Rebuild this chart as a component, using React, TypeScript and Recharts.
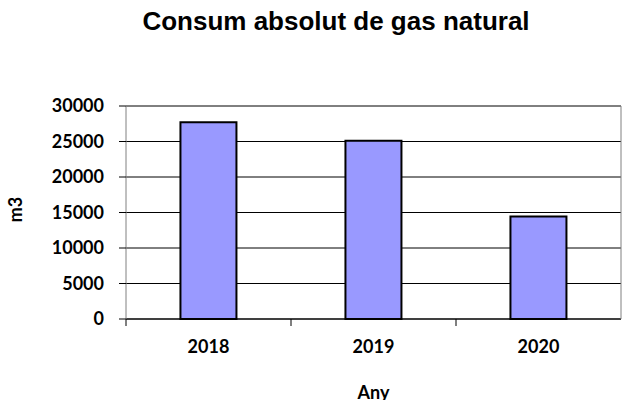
import { BarChart, Bar, XAxis, YAxis, CartesianGrid, ReferenceLine } from 'recharts';

const anys = ['2018', '2019', '2020'];
const consum = [27700, 25100, 14450];
const yTicks = [0, 5000, 10000, 15000, 20000, 25000, 30000];

const data = anys.map((any, i) => ({ any, consum: consum[i] }));

const labelFont = 'Lato, "Open Sans", sans-serif';

function AnyTick({ x, y, payload, width }: any) {
    const half = width / anys.length / 2;
    const axisY = y;
    return (
        <g>
            <line x1={x - half} y1={axisY} x2={x - half} y2={axisY + 7} stroke="#000" />
            <text x={x} y={axisY + 34} textAnchor="middle" fontFamily={labelFont} fontWeight="bold" fontSize={18} fill="#000">
                {payload.value}
            </text>
        </g>
    );
}

function AnyLabel({ viewBox }: any) {
    return (
        <text x={viewBox.x + viewBox.width / 2} y={viewBox.y + 80} textAnchor="middle" fontFamily={labelFont} fontWeight="bold" fontSize={18} fill="#000">
            Any
        </text>
    );
}

function M3Label({ viewBox }: any) {
    const cy = viewBox.y + viewBox.height / 2 - 3;
    return (
        <text x={22} y={cy} transform={`rotate(-90, 22, ${cy})`} textAnchor="middle" fontFamily={labelFont} fontWeight="bold" fontSize={18} fill="#000">
            m3
        </text>
    );
}

export default function App() {
    return (
        <div style={{ position: 'absolute', left: 0, top: 0 }}>
            <BarChart
                width={622}
                height={400}
                data={data}
                margin={{ top: 106, right: 0, left: 0, bottom: 0 }}
                barCategoryGap="33%"
            >
                <text x={336} y={30} textAnchor="middle" fontFamily='"Liberation Sans", Arial, sans-serif' fontWeight="bold" fontSize={26} fill="#000">
                    Consum absolut de gas natural
                </text>
                <CartesianGrid horizontal={true} vertical={false} stroke="#000" />
                <XAxis
                    dataKey="any"
                    height={81}
                    tickLine={false}
                    tickSize={0}
                    tickMargin={0}
                    axisLine={{ stroke: '#000' }}
                    tick={<AnyTick />}
                    interval={0}
                    label={<AnyLabel />}
                />
                <YAxis
                    width={126}
                    domain={[0, 30000]}
                    ticks={yTicks}
                    interval={0}
                    tickSize={7}
                    tickMargin={15}
                    tickLine={{ stroke: '#000' }}
                    axisLine={{ stroke: '#808080' }}
                    tick={{ fontFamily: labelFont, fontWeight: 'bold', fontSize: 18, fill: '#000' }}
                    label={<M3Label />}
                />
                <YAxis yAxisId="border" orientation="right" width={1} tick={false} tickLine={false} axisLine={{ stroke: '#808080' }} />
                <ReferenceLine y={30000} stroke="#808080" />
                <Bar dataKey="consum" fill="#9999FF" stroke="#000" strokeWidth={2} isAnimationActive={false} />
            </BarChart>
        </div>
    );
}
